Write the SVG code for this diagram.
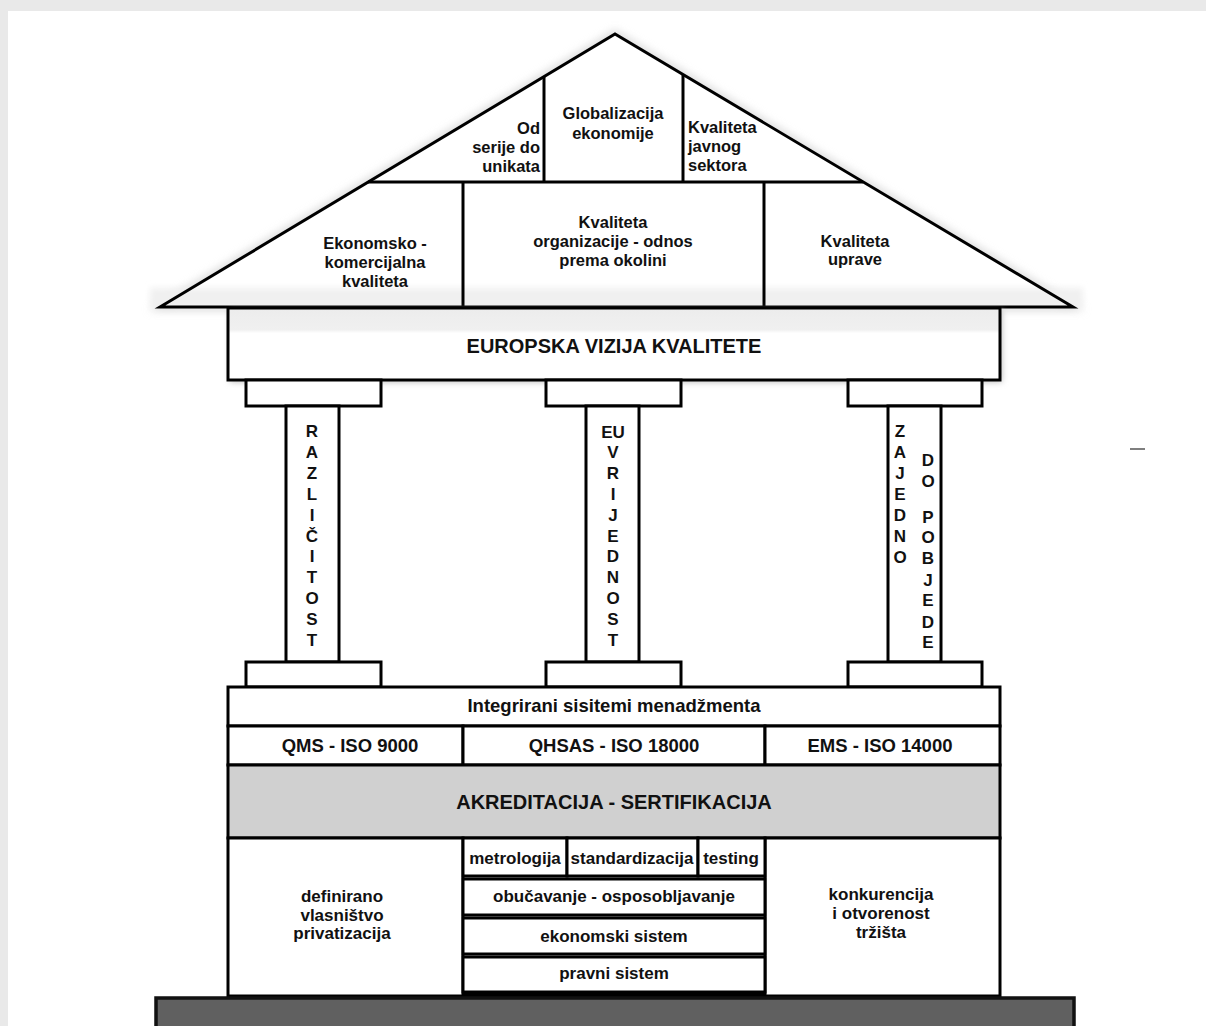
<svg xmlns="http://www.w3.org/2000/svg" width="1206" height="1026" viewBox="0 0 1206 1026">
<defs>
<style>
.s{fill:#fff;stroke:#000;stroke-width:3}
.ln{stroke:#000;stroke-width:3;fill:none}
.t{font-family:"Liberation Sans",Arial,sans-serif;font-weight:bold;fill:#111;text-anchor:middle}
.r16{font-size:16.5px}
.m17{font-size:17px}
.b18{font-size:18.5px}
.b20{font-size:20px}
.col{font-family:"Liberation Sans",Arial,sans-serif;font-weight:bold;font-size:17px;fill:#111;text-anchor:middle}
</style>
<filter id="blur" x="-10%" y="-20%" width="120%" height="140%"><feGaussianBlur stdDeviation="4"/></filter>
<filter id="blur2" x="-10%" y="-50%" width="120%" height="200%"><feGaussianBlur stdDeviation="3"/></filter>
<linearGradient id="eg" x1="0" y1="0" x2="0" y2="1">
<stop offset="0" stop-color="#ececec"/><stop offset="0.3" stop-color="#f0f0f0"/><stop offset="0.35" stop-color="#fff"/><stop offset="1" stop-color="#fff"/>
</linearGradient>
</defs>
<rect x="0" y="0" width="1206" height="1026" fill="#e9e9e9"/>
<rect x="8" y="11" width="1198" height="1015" fill="#fff"/>

<g id="roof">
<polygon points="160,307 615,34 1073,307" fill="none" stroke="#d0d0d0" stroke-width="6" filter="url(#blur)"/>
<polygon points="160,307 615,34 1073,307" fill="#fff"/>
<rect x="150" y="288" width="933" height="20" fill="#f0f0f0" filter="url(#blur2)"/>
<polygon points="160,307 615,34 1073,307" class="ln" stroke-linejoin="miter"/>
<line x1="368" y1="182" x2="863" y2="182" class="ln"/>
<line x1="544" y1="77" x2="544" y2="182" class="ln"/>
<line x1="683" y1="75" x2="683" y2="182" class="ln"/>
<line x1="463" y1="182" x2="463" y2="307" class="ln"/>
<line x1="764" y1="182" x2="764" y2="307" class="ln"/>
</g>
<g id="roof-od-serije">
<text class="t r16" style="text-anchor:end" x="540" y="134">Od</text>
<text class="t r16" style="text-anchor:end" x="540" y="153">serije do</text>
<text class="t r16" style="text-anchor:end" x="540" y="172">unikata</text>
</g>
<g id="roof-globalizacija">
<text class="t r16" x="613" y="119">Globalizacija</text>
<text class="t r16" x="613" y="139">ekonomije</text>
</g>
<g id="roof-javni-sektor">
<text class="t r16" style="text-anchor:start" x="688" y="133">Kvaliteta</text>
<text class="t r16" style="text-anchor:start" x="688" y="152">javnog</text>
<text class="t r16" style="text-anchor:start" x="688" y="171">sektora</text>
</g>
<g id="roof-ekonomsko">
<text class="t r16" x="375" y="249">Ekonomsko -</text>
<text class="t r16" x="375" y="268">komercijalna</text>
<text class="t r16" x="375" y="287">kvaliteta</text>
</g>
<g id="roof-organizacija">
<text class="t r16" x="613" y="228">Kvaliteta</text>
<text class="t r16" x="613" y="247">organizacije - odnos</text>
<text class="t r16" x="613" y="266">prema okolini</text>
</g>
<g id="roof-uprava">
<text class="t r16" x="855" y="247">Kvaliteta</text>
<text class="t r16" x="855" y="265">uprave</text>
</g>

<g id="europska-vizija">
<rect x="230" y="310" width="772" height="72" fill="#bdbdbd" filter="url(#blur2)"/>
<rect x="228" y="308" width="772" height="72" fill="url(#eg)" stroke="#000" stroke-width="3"/>
<text class="t b20" x="614" y="353">EUROPSKA VIZIJA KVALITETE</text>
</g>

<g id="column-left">
<rect class="s" x="246" y="380" width="135" height="26"/>
<rect class="s" x="286" y="406" width="53" height="256"/>
<rect class="s" x="246" y="662" width="135" height="25"/>
<text class="col" x="312" y="437">R</text>
<text class="col" x="312" y="458">A</text>
<text class="col" x="312" y="479">Z</text>
<text class="col" x="312" y="500">L</text>
<text class="col" x="312" y="521">I</text>
<text class="col" x="312" y="542">Č</text>
<text class="col" x="312" y="562">I</text>
<text class="col" x="312" y="583">T</text>
<text class="col" x="312" y="604">O</text>
<text class="col" x="312" y="625">S</text>
<text class="col" x="312" y="646">T</text>
</g>
<g id="column-middle">
<rect class="s" x="546" y="380" width="135" height="26"/>
<rect class="s" x="586" y="406" width="53" height="256"/>
<rect class="s" x="546" y="662" width="135" height="25"/>
<text class="col" x="613" y="438">EU</text>
<text class="col" x="613" y="458">V</text>
<text class="col" x="613" y="479">R</text>
<text class="col" x="613" y="500">I</text>
<text class="col" x="613" y="521">J</text>
<text class="col" x="613" y="542">E</text>
<text class="col" x="613" y="562">D</text>
<text class="col" x="613" y="583">N</text>
<text class="col" x="613" y="604">O</text>
<text class="col" x="613" y="625">S</text>
<text class="col" x="613" y="646">T</text>
</g>
<g id="column-right">
<rect class="s" x="848" y="380" width="134" height="26"/>
<rect class="s" x="888" y="406" width="53" height="256"/>
<rect class="s" x="848" y="662" width="134" height="25"/>
<text class="col" x="900" y="437">Z</text>
<text class="col" x="900" y="458">A</text>
<text class="col" x="900" y="479">J</text>
<text class="col" x="900" y="500">E</text>
<text class="col" x="900" y="521">D</text>
<text class="col" x="900" y="542">N</text>
<text class="col" x="900" y="563">O</text>
<text class="col" x="928" y="466">D</text>
<text class="col" x="928" y="487">O</text>
<text class="col" x="928" y="523">P</text>
<text class="col" x="928" y="543">O</text>
<text class="col" x="928" y="564">B</text>
<text class="col" x="928" y="586">J</text>
<text class="col" x="928" y="606">E</text>
<text class="col" x="928" y="628">D</text>
<text class="col" x="928" y="648">E</text>
</g>

<g id="integrirani">
<rect class="s" x="228" y="687" width="772" height="39"/>
<text class="t b18" x="614" y="712">Integrirani sisitemi menadžmenta</text>
</g>
<g id="qms">
<rect class="s" x="228" y="726" width="235" height="39"/>
<text class="t b18" x="350" y="752">QMS - ISO 9000</text>
</g>
<g id="qhsas">
<rect class="s" x="463" y="726" width="302" height="39"/>
<text class="t b18" x="614" y="752">QHSAS - ISO 18000</text>
</g>
<g id="ems">
<rect class="s" x="765" y="726" width="235" height="39"/>
<text class="t b18" x="880" y="752">EMS - ISO 14000</text>
</g>
<g id="akreditacija">
<rect x="228" y="765" width="772" height="73" fill="#d0d0d0" stroke="#000" stroke-width="3"/>
<text class="t b20" x="614" y="809">AKREDITACIJA - SERTIFIKACIJA</text>
</g>

<g id="vlasnistvo">
<rect class="s" x="228" y="838" width="235" height="158"/>
<text class="t m17" x="342" y="902">definirano</text>
<text class="t m17" x="342" y="921">vlasništvo</text>
<text class="t m17" x="342" y="939">privatizacija</text>
</g>
<g id="konkurencija">
<rect class="s" x="765" y="838" width="235" height="158"/>
<text class="t m17" x="881" y="900">konkurencija</text>
<text class="t m17" x="881" y="919">i otvorenost</text>
<text class="t m17" x="881" y="938">tržišta</text>
</g>
<rect x="463" y="990" width="302" height="8" fill="#000"/>
<g id="metrologija">
<rect class="s" x="463" y="838" width="104" height="38"/>
<text class="t m17" x="515" y="864">metrologija</text>
</g>
<g id="standardizacija">
<rect class="s" x="567" y="838" width="131" height="38"/>
<text class="t m17" x="632" y="864">standardizacija</text>
</g>
<g id="testing">
<rect class="s" x="698" y="838" width="67" height="38"/>
<text class="t m17" x="731" y="864">testing</text>
</g>
<g id="obucavanje">
<rect class="s" x="463" y="879" width="302" height="36"/>
<text class="t m17" x="614" y="902">obučavanje - osposobljavanje</text>
</g>
<g id="ekonomski-sistem">
<rect class="s" x="463" y="918" width="302" height="36"/>
<text class="t m17" x="614" y="942">ekonomski sistem</text>
</g>
<g id="pravni-sistem">
<rect class="s" x="463" y="957" width="302" height="35"/>
<text class="t m17" x="614" y="979">pravni sistem</text>
</g>

<g id="temelj">
<rect x="156" y="998" width="918" height="40" fill="#606060" stroke="#111" stroke-width="3.5"/>
</g>

<g id="connectors">
<line x1="1130" y1="449" x2="1145" y2="449" stroke="#555" stroke-width="1.5"/>
</g>
</svg>
